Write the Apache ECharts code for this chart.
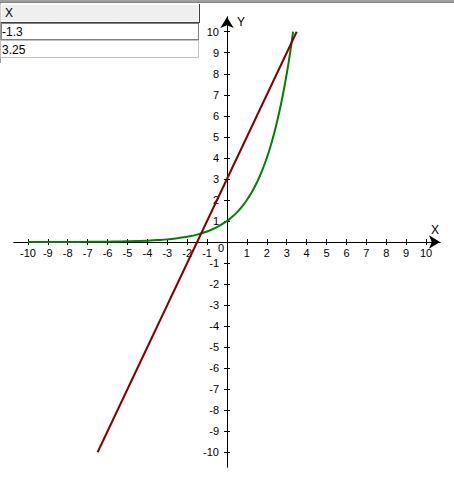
<!DOCTYPE html>
<html><head><meta charset="utf-8">
<script src="https://cdn.jsdelivr.net/npm/echarts@6/dist/echarts.min.js"></script>
<style>html,body{margin:0;padding:0;background:#fff;}#c{width:454px;height:479px;}</style>
</head><body><div id="c"></div>
<script>
// table values
var tableHeader = 'X';
var tableRows = ['-1.3', '3.25'];
// tick labels
var tickValues = [-10,-9,-8,-7,-6,-5,-4,-3,-2,-1,0,1,2,3,4,5,6,7,8,9,10];
// green curve points
var curveX = [-10, -9, -8, -7, -6, -5, -4, -3.5, -3, -2.5, -2, -1.5, -1, -0.5, 0, 0.25, 0.5, 0.75, 1, 1.25, 1.5, 1.75, 2, 2.25, 2.5, 2.75, 3, 3.1, 3.2, 3.32];
var curveY = [0.001, 0.002, 0.004, 0.008, 0.016, 0.03, 0.06, 0.09, 0.125, 0.18, 0.25, 0.35, 0.5, 0.71, 1, 1.19, 1.41, 1.68, 2, 2.38, 2.83, 3.36, 4, 4.76, 5.66, 6.73, 8, 8.57, 9.19, 10];
// red line end points
var lineX = [-6.5, 3.5];
var lineY = [-10, 10];

var FONT = 'Liberation Sans';
var chart = echarts.init(document.getElementById('c'), null, {renderer: 'svg'});
function pairs(xs, ys){ return xs.map(function(x,i){ return [x, ys[i]]; }); }
var axMin = -10.7, axMax = 10.7;
var G = {left: 14, width: 426, top: 17, height: 450};
var xOff = -(G.height / 2);   // move x axis to the middle of the symmetric grid
var yOff = -(G.width / 2);    // move y axis to the middle
var lineSt = {color: '#000', width: 1};
option = {
  animation: false,
  grid: {left: G.left, width: G.width, top: G.top, height: G.height, containLabel: false},
  xAxis: [
    {type: 'value', min: axMin, max: axMax, position: 'bottom', offset: xOff, splitLine: {show: false},
      name: 'X', nameLocation: 'end', nameGap: -5,
      nameTextStyle: {color: '#000', fontSize: 12, fontFamily: FONT, align: 'center', verticalAlign: 'bottom', padding: [0,0,6,0]},
      axisLine: {onZero: false, symbol: ['none','arrow'], symbolSize: [10, 11], lineStyle: lineSt},
      axisTick: {show: true, inside: false, length: 3, customValues: tickValues, lineStyle: {color: '#000'}},
      axisLabel: {show: true, customValues: tickValues.filter(function(v){return v!==0;}), color: '#000', fontSize: 11, fontFamily: FONT, margin: 5}
    },
    {type: 'value', min: axMin, max: axMax, position: 'bottom', offset: xOff, splitLine: {show: false},
      axisLine: {onZero: false, lineStyle: lineSt},
      axisTick: {show: true, inside: true, length: 3, customValues: tickValues, lineStyle: {color: '#000'}},
      axisLabel: {show: false}
    }
  ],
  yAxis: [
    {type: 'value', min: axMin, max: axMax, position: 'left', offset: yOff, splitLine: {show: false},
      name: 'Y', nameLocation: 'end', nameGap: -5,
      nameTextStyle: {color: '#000', fontSize: 12, fontFamily: FONT, align: 'left', verticalAlign: 'middle', padding: [0,0,0,10]},
      axisLine: {onZero: false, symbol: ['none','arrow'], symbolSize: [10, 11], lineStyle: lineSt},
      axisTick: {show: true, inside: false, length: 3, customValues: tickValues, lineStyle: {color: '#000'}},
      axisLabel: {show: true, customValues: tickValues, color: '#000', fontSize: 11, fontFamily: FONT, margin: 3,
        formatter: function(v){ return v === 0 ? '{z|0}' : '{n|' + v + '}'; },
        rich: {n: {padding: [0,5,0,0], fontSize: 11, fontFamily: FONT, color: '#000'},
               z: {padding: [12,0,0,0], fontSize: 11, fontFamily: FONT, color: '#000'}}}
    },
    {type: 'value', min: axMin, max: axMax, position: 'left', offset: yOff, splitLine: {show: false},
      axisLine: {onZero: false, lineStyle: lineSt},
      axisTick: {show: true, inside: true, length: 3, customValues: tickValues, lineStyle: {color: '#000'}},
      axisLabel: {show: false}
    }
  ],
  series: [
    {type: 'line', data: pairs(curveX, curveY), showSymbol: false, smooth: true,
     lineStyle: {color: '#008000', width: 2}, itemStyle: {color: '#008000'}, z: 3},
    {type: 'line', data: pairs(lineX, lineY), showSymbol: false,
     lineStyle: {color: '#800000', width: 2}, itemStyle: {color: '#800000'}, z: 4}
  ],
  graphic: [
    {type: 'rect', shape: {x: 0, y: 0, width: 454, height: 2}, style: {fill: '#a0a0a0'}, silent: true},
    {type: 'rect', shape: {x: 0, y: 2, width: 454, height: 1}, style: {fill: '#808080'}, silent: true},
    {type: 'rect', shape: {x: 0, y: 3, width: 1, height: 60}, style: {fill: '#a0a0a0'}, silent: true},
    {type: 'rect', shape: {x: 1, y: 4, width: 198, height: 18}, style: {fill: '#efefef', stroke: '#ffffff', lineWidth: 1}, silent: true},
    {type: 'rect', shape: {x: 199, y: 4, width: 1, height: 19}, style: {fill: '#404040'}, silent: true},
    {type: 'rect', shape: {x: 1, y: 22, width: 199, height: 1}, style: {fill: '#404040'}, silent: true},
    {type: 'text', left: 5, top: 7, style: {text: tableHeader, fill: '#000', font: '12px ' + FONT}, silent: true},
    {type: 'rect', shape: {x: 1.5, y: 23.5, width: 197, height: 16}, style: {fill: '#fff', stroke: '#000', lineWidth: 1, lineDash: [1,1]}, silent: true},
    {type: 'text', left: 2, top: 26, style: {text: tableRows[0], fill: '#000', font: '12px ' + FONT}, silent: true},
    {type: 'rect', shape: {x: 0.5, y: 40.5, width: 198, height: 17}, style: {fill: '#fff', stroke: '#c0c0c0', lineWidth: 1}, silent: true},
    {type: 'text', left: 2, top: 44, style: {text: tableRows[1], fill: '#000', font: '12px ' + FONT}, silent: true}
  ]
};
chart.setOption(option);
</script></body></html>
